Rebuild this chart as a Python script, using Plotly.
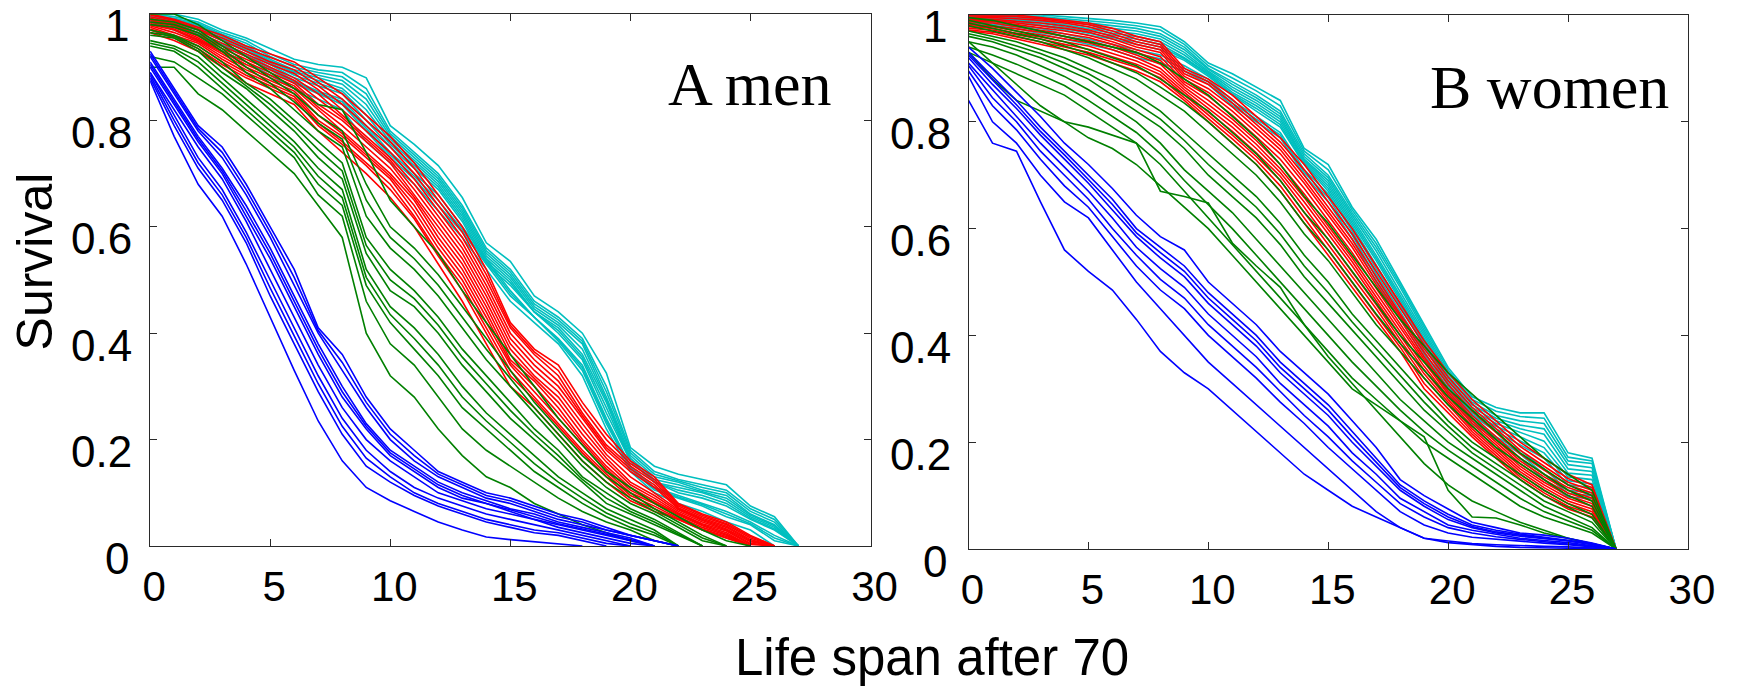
import plotly.graph_objects as go

# ---------------- data ----------------
years = list(range(0, 28))
x_ticks = [0, 5, 10, 15, 20, 25, 30]
y_ticks = [0, 0.2, 0.4, 0.6, 0.8, 1]
y_tick_text = ["0", "0.2", "0.4", "0.6", "0.8", "1"]
panel_labels = ["A men", "B women"]
x_title = "Life span after 70"
y_title = "Survival"

# Panel A: men
men_blue = [
    [.93, .86, .79, .75, .68, .60, .52, .41, .36, .28, .22, .18, .14, .12, .10, .09, .075, .06, .05, .035, .02, .01, 0],
    [.925, .855, .785, .74, .67, .59, .505, .405, .345, .27, .21, .17, .135, .115, .095, .085, .07, .055, .045, .03, .02, .01, 0],
    [.92, .85, .78, .73, .66, .58, .49, .40, .33, .26, .20, .16, .13, .11, .09, .08, .065, .05, .04, .03, .02, .01, 0],
    [.91, .84, .77, .71, .64, .56, .47, .38, .30, .23, .18, .15, .12, .10, .085, .07, .06, .045, .035, .025, .015, 0],
    [.905, .835, .765, .705, .63, .55, .46, .37, .29, .225, .175, .145, .115, .095, .08, .068, .055, .042, .032, .022, .012, 0],
    [.90, .83, .76, .70, .62, .54, .45, .36, .28, .22, .17, .14, .11, .09, .08, .065, .05, .04, .03, .02, .01, 0],
    [.89, .82, .75, .69, .61, .52, .43, .34, .26, .20, .16, .13, .10, .085, .07, .06, .05, .035, .025, .015, .005, 0],
    [.89, .81, .73, .67, .59, .50, .41, .32, .24, .18, .14, .11, .09, .075, .06, .05, .04, .03, .02, .01, 0],
    [.885, .80, .72, .66, .58, .485, .395, .305, .225, .165, .13, .10, .08, .065, .05, .04, .03, .025, .015, .005, 0],
    [.88, .79, .71, .65, .57, .47, .38, .29, .21, .15, .12, .095, .075, .06, .045, .035, .025, .02, .01, 0],
    [.875, .77, .68, .62, .53, .43, .33, .235, .16, .11, .085, .065, .045, .03, .017, .012, .008, .005, 0],
]
men_cyan = [
    [1, 1, .99, .97, .955, .935, .915, .905, .90, .88, .79, .755, .715, .655, .57, .535, .47, .44, .40, .325, .185, .15, .135, .125, .115, .075, .055, 0],
    [.998, .992, .982, .962, .945, .92, .90, .89, .882, .85, .775, .735, .695, .635, .555, .515, .455, .425, .385, .29, .175, .135, .122, .11, .10, .065, .045, 0],
    [1, .995, .985, .965, .95, .925, .905, .895, .89, .86, .78, .74, .70, .64, .56, .52, .46, .43, .39, .30, .18, .14, .125, .115, .105, .07, .05, 0],
    [.995, .988, .978, .958, .938, .912, .892, .88, .868, .83, .765, .725, .685, .625, .545, .505, .445, .415, .37, .275, .165, .125, .115, .102, .09, .058, .038, 0],
    [.995, .99, .98, .96, .94, .915, .895, .885, .875, .84, .77, .73, .69, .63, .55, .51, .45, .42, .38, .28, .17, .13, .12, .105, .095, .06, .04, 0],
    [.992, .982, .972, .952, .932, .908, .885, .87, .855, .81, .755, .715, .675, .615, .535, .495, .44, .405, .355, .26, .16, .12, .105, .095, .08, .052, .032, 0],
    [.995, .985, .975, .955, .935, .91, .89, .875, .86, .82, .76, .72, .68, .62, .54, .50, .44, .41, .36, .27, .16, .12, .11, .10, .085, .055, .035, 0],
    [.99, .98, .97, .95, .93, .905, .88, .865, .85, .80, .75, .71, .67, .61, .53, .49, .44, .40, .35, .25, .16, .12, .10, .09, .075, .05, .03, 0],
    [.988, .978, .962, .942, .922, .898, .872, .852, .835, .785, .735, .695, .65, .595, .535, .475, .43, .388, .335, .235, .148, .108, .092, .078, .06, .042, .015, 0],
    [.99, .98, .965, .945, .925, .90, .875, .855, .84, .79, .74, .70, .66, .60, .54, .48, .43, .39, .34, .24, .15, .11, .095, .08, .065, .045, .02, 0],
    [.985, .975, .96, .94, .92, .895, .87, .85, .83, .78, .73, .69, .64, .59, .53, .47, .43, .385, .33, .23, .145, .105, .09, .075, .055, .04, .01, 0],
    [.985, .97, .95, .93, .91, .885, .86, .84, .82, .76, .72, .68, .63, .58, .52, .46, .42, .38, .32, .22, .14, .10, .08, .065, .045, .03, 0],
]
men_red = [
    [1, .99, .975, .96, .94, .925, .91, .88, .85, .81, .77, .72, .66, .60, .52, .42, .37, .34, .27, .21, .16, .13, .08, .06, .045, .02, 0],
    [.998, .988, .972, .955, .935, .918, .902, .872, .84, .80, .76, .71, .65, .59, .51, .415, .365, .33, .26, .20, .155, .125, .078, .058, .042, .018, 0],
    [.995, .985, .97, .95, .93, .91, .895, .865, .83, .79, .75, .70, .64, .58, .50, .41, .36, .32, .25, .19, .15, .12, .075, .055, .04, .015, 0],
    [.992, .982, .965, .945, .925, .905, .888, .858, .82, .78, .74, .69, .63, .57, .49, .40, .35, .31, .245, .185, .145, .115, .072, .052, .037, .012, 0],
    [.99, .98, .96, .94, .92, .90, .88, .85, .81, .77, .73, .68, .62, .56, .48, .39, .34, .30, .24, .18, .14, .11, .07, .05, .035, .01, 0],
    [.988, .978, .958, .935, .915, .895, .875, .84, .805, .765, .725, .67, .61, .55, .47, .38, .33, .29, .23, .172, .13, .10, .068, .048, .032, .008, 0],
    [.985, .975, .955, .93, .91, .89, .87, .83, .80, .76, .72, .66, .60, .54, .46, .37, .32, .28, .22, .165, .12, .095, .065, .045, .03, .005, 0],
    [.982, .972, .952, .928, .905, .885, .865, .825, .79, .75, .71, .655, .59, .53, .45, .36, .315, .27, .21, .158, .115, .09, .062, .042, .028, .003, 0],
    [.98, .97, .95, .925, .90, .88, .86, .82, .78, .74, .70, .65, .58, .52, .44, .35, .31, .26, .20, .15, .11, .085, .06, .04, .025, 0],
    [.978, .965, .948, .92, .895, .875, .855, .81, .775, .735, .695, .64, .57, .51, .43, .345, .30, .25, .195, .145, .105, .082, .058, .038, .022, 0],
    [.975, .96, .945, .915, .89, .87, .85, .80, .77, .73, .69, .63, .56, .50, .42, .34, .29, .24, .19, .14, .10, .08, .055, .035, .02, 0],
    [.972, .958, .94, .91, .885, .865, .845, .795, .76, .72, .68, .62, .55, .49, .41, .33, .28, .23, .18, .135, .095, .075, .052, .032, .018, 0],
    [.97, .955, .935, .905, .88, .86, .84, .79, .755, .715, .67, .615, .545, .48, .40, .32, .275, .225, .175, .13, .09, .07, .05, .03, .015, 0],
    [.965, .95, .93, .90, .87, .85, .83, .78, .74, .70, .655, .60, .53, .46, .38, .30, .26, .21, .16, .12, .085, .065, .05, .03, .015, 0],
]
men_green = [
    [1, 1, .98, .95, .92, .89, .86, .83, .82, .74, .65, .60, .55, .48, .42, .36, .30, .24, .19, .14, .11, .08, .055, .03, .01, 0],
    [.99, .985, .97, .94, .91, .88, .85, .81, .78, .68, .60, .56, .51, .45, .39, .33, .27, .22, .17, .13, .10, .07, .045, .02, 0],
    [.985, .98, .965, .935, .90, .87, .835, .795, .765, .65, .58, .54, .49, .43, .37, .315, .26, .21, .16, .12, .09, .065, .04, .015, 0],
    [.98, .975, .96, .93, .89, .86, .82, .78, .75, .62, .56, .52, .47, .41, .35, .30, .25, .20, .15, .11, .08, .06, .035, .01, 0],
    [.97, .96, .94, .91, .87, .84, .80, .76, .72, .58, .52, .48, .43, .37, .32, .27, .22, .18, .13, .10, .07, .05, .025, 0],
    [.965, .958, .935, .90, .865, .83, .79, .745, .705, .565, .50, .465, .415, .355, .305, .255, .21, .17, .125, .09, .065, .045, .022, 0],
    [.96, .955, .93, .89, .86, .82, .78, .73, .69, .55, .48, .45, .40, .34, .29, .24, .20, .16, .12, .08, .06, .04, .02, 0],
    [.95, .94, .92, .88, .84, .80, .76, .71, .67, .52, .45, .41, .36, .30, .25, .21, .17, .13, .10, .07, .05, .03, 0],
    [.945, .935, .91, .87, .83, .79, .75, .695, .655, .505, .435, .39, .34, .28, .235, .195, .155, .12, .09, .062, .042, .025, 0],
    [.94, .93, .90, .86, .82, .78, .74, .68, .64, .49, .42, .37, .32, .26, .22, .18, .14, .11, .08, .055, .035, .02, 0],
    [.92, .91, .88, .85, .81, .77, .73, .66, .62, .46, .38, .34, .28, .22, .18, .15, .12, .09, .065, .045, .03, .01, 0],
    [.90, .90, .85, .82, .78, .74, .70, .64, .58, .40, .32, .28, .22, .17, .13, .11, .08, .06, .04, .025, .01, 0],
]

# Panel B: women
women_blue = [
    [.94, .90, .855, .81, .76, .72, .675, .625, .585, .56, .50, .46, .42, .37, .33, .29, .24, .19, .13, .10, .075, .05, .04, .03, .026, .02, .011, 0],
    [.93, .885, .84, .79, .745, .70, .655, .60, .565, .53, .48, .44, .40, .35, .31, .27, .22, .17, .12, .09, .065, .045, .035, .028, .022, .017, .01, 0],
    [.925, .878, .832, .782, .738, .692, .645, .592, .555, .52, .47, .43, .39, .34, .30, .26, .21, .162, .115, .085, .06, .042, .032, .026, .02, .016, .009, 0],
    [.92, .87, .825, .775, .73, .685, .635, .585, .545, .51, .46, .42, .38, .33, .29, .25, .20, .155, .11, .08, .055, .04, .03, .024, .019, .015, .008, 0],
    [.91, .86, .81, .76, .715, .67, .62, .565, .525, .49, .44, .40, .36, .31, .27, .23, .18, .14, .095, .07, .045, .035, .027, .02, .016, .012, .006, 0],
    [.905, .845, .80, .745, .70, .655, .60, .55, .505, .47, .42, .38, .34, .295, .25, .21, .165, .125, .085, .06, .04, .03, .023, .018, .014, .01, .005, 0],
    [.895, .83, .785, .73, .68, .64, .585, .53, .485, .45, .40, .36, .32, .275, .235, .19, .15, .11, .07, .045, .03, .022, .018, .014, .011, .008, .004, 0],
    [.885, .80, .76, .70, .65, .62, .56, .50, .45, .40, .35, .31, .27, .23, .19, .15, .11, .07, .04, .02, .015, .01, .008, .006, .005, .004, .002, 0],
    [.84, .76, .745, .65, .56, .52, .485, .43, .37, .33, .30, .26, .22, .18, .14, .11, .08, .06, .04, .02, .012, .008, .005, .003, .002, .001, 0, 0],
]
women_cyan = [
    [1, 1, 1, 1, .997, .994, .99, .985, .978, .95, .91, .89, .865, .84, .75, .72, .64, .58, .50, .42, .34, .285, .265, .255, .255, .18, .17, 0],
    [.999, .999, .998, .997, .993, .99, .985, .98, .972, .945, .905, .882, .858, .83, .745, .71, .635, .572, .495, .415, .335, .28, .258, .248, .245, .172, .165, 0],
    [.998, .998, .997, .995, .99, .985, .98, .975, .965, .94, .90, .875, .85, .82, .74, .70, .63, .565, .49, .41, .33, .275, .25, .24, .235, .165, .16, 0],
    [.996, .996, .995, .992, .988, .982, .975, .97, .96, .935, .898, .87, .845, .815, .735, .695, .625, .558, .482, .405, .325, .27, .245, .232, .225, .158, .152, 0],
    [.995, .995, .993, .99, .985, .978, .97, .965, .955, .93, .895, .865, .84, .81, .73, .69, .62, .55, .475, .40, .32, .265, .24, .225, .215, .15, .145, 0],
    [.994, .993, .991, .988, .982, .974, .966, .96, .95, .925, .892, .86, .835, .805, .728, .685, .615, .545, .47, .395, .315, .26, .235, .218, .202, .142, .138, 0],
    [.993, .992, .99, .985, .978, .97, .962, .955, .945, .92, .89, .855, .83, .80, .725, .68, .61, .54, .465, .39, .31, .255, .23, .21, .19, .135, .13, 0],
    [.991, .991, .988, .982, .975, .966, .958, .95, .94, .918, .888, .852, .825, .795, .722, .675, .605, .532, .46, .385, .308, .252, .225, .202, .18, .128, .122, 0],
    [.99, .99, .985, .98, .972, .962, .955, .945, .935, .915, .885, .85, .82, .79, .72, .67, .60, .525, .455, .38, .305, .25, .22, .195, .17, .12, .115, 0],
    [.988, .986, .98, .975, .965, .955, .945, .935, .925, .905, .88, .84, .81, .78, .71, .665, .595, .515, .445, .37, .30, .245, .21, .185, .15, .11, .105, 0],
    [.986, .983, .978, .97, .96, .95, .94, .928, .918, .90, .875, .835, .805, .775, .705, .658, .588, .508, .438, .365, .295, .24, .208, .178, .14, .104, .10, 0],
    [.985, .98, .975, .965, .955, .945, .935, .92, .91, .895, .87, .83, .80, .77, .70, .65, .58, .50, .43, .36, .29, .235, .205, .17, .13, .097, .095, 0],
]
women_red = [
    [1, 1, 1, .995, .99, .985, .975, .96, .95, .90, .88, .85, .81, .77, .72, .66, .60, .53, .46, .39, .33, .28, .24, .20, .17, .14, .12, 0],
    [.998, .998, .997, .993, .988, .982, .97, .955, .945, .895, .875, .842, .802, .762, .71, .65, .59, .52, .45, .382, .322, .272, .232, .192, .162, .132, .115, 0],
    [.995, .995, .993, .99, .985, .978, .965, .95, .94, .89, .87, .835, .795, .755, .70, .64, .58, .51, .44, .375, .315, .265, .225, .185, .155, .125, .11, 0],
    [.992, .992, .988, .985, .98, .972, .96, .945, .935, .885, .862, .828, .788, .748, .692, .632, .572, .502, .435, .368, .308, .258, .218, .178, .148, .12, .105, 0],
    [.99, .99, .985, .98, .975, .968, .955, .94, .93, .88, .855, .82, .78, .74, .685, .625, .565, .495, .43, .36, .30, .25, .21, .17, .14, .115, .10, 0],
    [.988, .988, .982, .976, .97, .962, .95, .935, .922, .875, .848, .812, .772, .73, .675, .615, .555, .488, .422, .355, .295, .245, .205, .165, .135, .11, .095, 0],
    [.985, .985, .978, .972, .965, .958, .945, .93, .915, .87, .84, .805, .765, .72, .665, .605, .545, .48, .415, .35, .29, .24, .20, .16, .13, .105, .09, 0],
    [.982, .98, .974, .968, .96, .952, .94, .925, .908, .865, .832, .798, .758, .712, .658, .598, .538, .472, .408, .342, .285, .235, .195, .155, .125, .10, .085, 0],
    [.98, .978, .97, .963, .955, .948, .935, .92, .90, .86, .825, .79, .75, .705, .65, .59, .53, .465, .40, .335, .28, .23, .19, .15, .12, .095, .08, 0],
    [.978, .975, .966, .959, .95, .942, .928, .914, .894, .855, .818, .782, .742, .698, .64, .58, .52, .458, .392, .328, .275, .225, .185, .145, .115, .09, .075, 0],
    [.975, .972, .963, .955, .945, .936, .922, .908, .888, .85, .812, .775, .735, .69, .63, .57, .51, .45, .385, .32, .27, .22, .18, .14, .11, .085, .07, 0],
    [.972, .968, .959, .95, .94, .93, .916, .902, .882, .845, .806, .768, .728, .68, .62, .56, .50, .44, .378, .31, .262, .215, .175, .135, .105, .08, .065, 0],
    [.97, .965, .955, .945, .935, .925, .91, .895, .875, .84, .80, .76, .72, .67, .61, .55, .49, .43, .37, .30, .255, .21, .17, .13, .10, .075, .06, 0],
]
women_green = [
    [.995, .99, .98, .97, .96, .95, .94, .93, .91, .88, .85, .81, .77, .72, .66, .61, .55, .49, .43, .38, .33, .29, .25, .21, .17, .14, .11, 0],
    [.99, .98, .97, .96, .95, .935, .92, .905, .88, .85, .82, .78, .74, .69, .63, .58, .52, .46, .40, .35, .30, .26, .22, .18, .15, .12, .10, 0],
    [.985, .975, .965, .955, .942, .928, .91, .892, .865, .835, .80, .76, .72, .67, .61, .56, .50, .44, .385, .335, .285, .245, .205, .17, .14, .11, .09, 0],
    [.98, .97, .96, .95, .935, .92, .90, .88, .85, .82, .78, .74, .70, .65, .59, .54, .48, .42, .37, .32, .27, .23, .19, .16, .13, .10, .08, 0],
    [.97, .96, .95, .935, .92, .90, .88, .85, .82, .78, .74, .70, .66, .61, .55, .50, .44, .39, .34, .29, .24, .20, .17, .14, .11, .085, .065, 0],
    [.965, .955, .942, .928, .91, .89, .865, .835, .805, .765, .72, .68, .64, .59, .53, .48, .425, .375, .325, .275, .23, .19, .16, .13, .10, .078, .058, 0],
    [.96, .95, .935, .92, .90, .88, .85, .82, .79, .75, .70, .66, .62, .57, .51, .46, .41, .36, .31, .26, .22, .18, .15, .12, .09, .07, .05, 0],
    [.95, .94, .925, .905, .885, .86, .83, .80, .76, .71, .67, .63, .58, .53, .48, .43, .38, .33, .28, .24, .20, .17, .14, .11, .08, .06, .04, 0],
    [.94, .925, .908, .888, .868, .84, .81, .78, .74, .69, .645, .60, .55, .50, .45, .40, .35, .305, .26, .22, .185, .155, .125, .095, .07, .052, .035, 0],
    [.93, .91, .89, .87, .85, .82, .79, .76, .72, .67, .62, .57, .52, .47, .42, .37, .32, .28, .24, .20, .17, .14, .11, .08, .06, .045, .03, 0],
    [.93, .88, .84, .82, .80, .79, .775, .76, .67, .66, .648, .573, .53, .49, .42, .36, .31, .26, .21, .16, .12, .09, .07, .05, .035, .02, .01, 0],
    [.95, .91, .87, .83, .80, .77, .75, .72, .68, .64, .60, .55, .50, .45, .40, .35, .30, .27, .24, .21, .11, .06, .058, .045, .03, .02, .01, 0],
]

# ---------------- styling ----------------
colors = {"cyan": "#00bfbf", "red": "#ff0000", "green": "#008000", "blue": "#0000ff"}
panels = [
    [("cyan", men_cyan), ("red", men_red), ("green", men_green), ("blue", men_blue)],
    [("cyan", women_cyan), ("red", women_red), ("green", women_green), ("blue", women_blue)],
]

W, H = 1762, 688
sans = "Liberation Sans, Arial, Helvetica, sans-serif"
serif = "Liberation Serif, Times New Roman, Times, serif"

fig = go.Figure()
for p, groups in enumerate(panels):
    xa = "x" if p == 0 else "x2"
    ya = "y" if p == 0 else "y2"
    for cname, curves in groups:
        for c in curves:
            fig.add_trace(go.Scatter(
                x=years[:len(c)], y=c, mode="lines",
                line=dict(color=colors[cname], width=1.6),
                xaxis=xa, yaxis=ya, showlegend=False, hoverinfo="skip"))

# pixel boxes of the two plot areas (left, right, top, bottom)
boxes = [(145, 880, 14, 546), (980, 1714, 15, 549)]

axis_common = dict(
    showline=True, linecolor="#2a2a2a", linewidth=1, mirror="ticks",
    ticks="inside", ticklen=7, tickwidth=1, tickcolor="#2a2a2a",
    showgrid=False, zeroline=False,
)

layout = dict(
    width=W, height=H, margin=dict(l=0, r=0, t=0, b=0),
    paper_bgcolor="white", plot_bgcolor="white", showlegend=False,
)
for p, (l, r, t, b) in enumerate(boxes):
    sx = "" if p == 0 else "2"
    layout["xaxis" + sx] = dict(
        axis_common, domain=[l / W, r / W], range=[0, 30],
        tickvals=x_ticks, ticktext=[str(v) for v in x_ticks],
        tickfont=dict(family=sans, size=42, color="black"),
        ticklabelstandoff=4, ticklabelshift=4,
        anchor="y" + sx,
    )
    layout["yaxis" + sx] = dict(
        axis_common, domain=[1 - b / H, 1 - t / H], range=[0, 1],
        tickvals=y_ticks, showticklabels=False,
        anchor="x" + sx,
    )
fig.update_layout(**layout)

# y tick labels (drawn slightly below their ticks, as in the original)
for p, (l, r, t, b) in enumerate(boxes):
    for v, txt in zip(y_ticks, y_tick_text):
        py = b - v * (b - t) + 12
        gap = 21 if len(txt) == 1 else 17
        fig.add_annotation(x=(l - gap) / W, y=1 - py / H, xref="paper", yref="paper",
                           text=txt, showarrow=False, xanchor="right", yanchor="middle",
                           borderpad=0,
                           font=dict(family=sans, size=44, color="black"))

# panel labels
label_pos = [(672, 84), (1450, 87)]
for (px, py), txt in zip(label_pos, panel_labels):
    fig.add_annotation(x=px / W, y=1 - py / H, xref="paper", yref="paper",
                       text=txt, showarrow=False, xanchor="left", yanchor="middle",
                       borderpad=0,
                       font=dict(family=serif, size=62, color="black"))

# axis titles
fig.add_annotation(x=943 / W, y=1 - 657 / H, xref="paper", yref="paper",
                   text=x_title, showarrow=False, xanchor="center", yanchor="middle",
                   font=dict(family=sans, size=51, color="black"))
fig.add_annotation(x=28 / W, y=1 - 261 / H, xref="paper", yref="paper",
                   text=y_title, showarrow=False, textangle=-90,
                   xanchor="center", yanchor="middle",
                   font=dict(family=sans, size=50, color="black"))

fig.write_html("out.html")
